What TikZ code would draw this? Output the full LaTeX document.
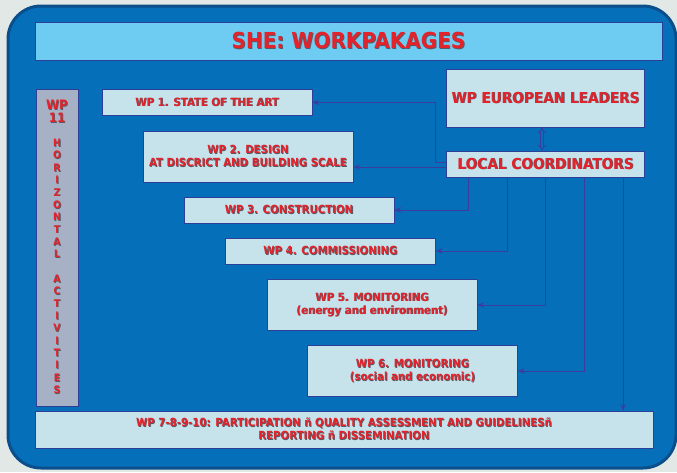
\documentclass[tikz,border=0pt]{standalone}
\usepackage{fontspec}
\usepackage{xcolor}
\usetikzlibrary{arrows.meta}
\newfontfamily\wpfont[FakeStretch=0.91]{DejaVu Sans}
\definecolor{pagebg}{HTML}{E1E8E5}
\definecolor{bgblue}{HTML}{0570B9}
\definecolor{framedark}{HTML}{0A4F8C}
\definecolor{titlefill}{HTML}{6ECBF1}
\definecolor{boxfill}{HTML}{C6E2EB}
\definecolor{sidefill}{HTML}{A6B1C6}
\definecolor{edge}{HTML}{2E3F97}
\definecolor{linkcol}{HTML}{3A3C9E}
\definecolor{wpred}{HTML}{E3232B}
\definecolor{txtshadow}{HTML}{5A5A66}
\newcommand\shtxt[1]{\leavevmode\rlap{\kern0.8pt\raisebox{-0.8pt}{\textcolor{txtshadow}{#1}}}#1}
\tikzstyle{wpbox} = [rectangle, draw=edge, fill=boxfill, line width=1pt, minimum width=210pt, minimum height=26pt, inner sep=0pt, align=center, text=wpred, font=\wpfont\bfseries\fontsize{11.2}{13}\selectfont]
\tikzstyle{wptall} = [wpbox, minimum height=51pt]
\tikzstyle{lead} = [wpbox, minimum width=198pt, font=\wpfont\bfseries\fontsize{15}{18}\selectfont]
\tikzstyle{sidebar} = [wpbox, fill=sidefill, minimum width=42pt, minimum height=317pt, font=\wpfont\bfseries\fontsize{10.3}{12.35}\selectfont]
\tikzstyle{banner} = [wpbox, fill=titlefill, minimum width=627pt, minimum height=38pt, font=\wpfont\bfseries\fontsize{22}{26}\selectfont]
\tikzstyle{link} = [line width=1pt, draw=linkcol, -{Stealth[length=6.5pt,width=5.5pt]}]
\tikzstyle{both} = [line width=0.8pt, draw=linkcol, double=bgblue, double distance=2pt, {Implies[length=3.5pt]}-{Implies[length=3.5pt]}]

\begin{document}
\begin{tikzpicture}[x=1pt,y=-1pt]

    \useasboundingbox (0,0) rectangle (677,472);
    \fill [pagebg] (0,0) rectangle (677,472);
    \draw [fill=bgblue, draw=framedark, line width=3pt, rounded corners=33pt] (8,6) rectangle (676,468);

    \node (t) [banner] at (348.5,41) {\shtxt{SHE: WORKPAKAGES}};

    \node (wp11) [sidebar] at (57,247.5) {{\fontsize{13}{16}\selectfont\shtxt{WP}}\\{\fontsize{13}{16}\selectfont\shtxt{11}}\\[12pt]
      \shtxt{H}\\\shtxt{O}\\\shtxt{R}\\\shtxt{I}\\\shtxt{Z}\\\shtxt{O}\\\shtxt{N}\\\shtxt{T}\\\shtxt{A}\\\shtxt{L}\\[12.35pt]
      \shtxt{A}\\\shtxt{C}\\\shtxt{T}\\\shtxt{I}\\\shtxt{V}\\\shtxt{I}\\\shtxt{T}\\\shtxt{I}\\\shtxt{E}\\\shtxt{S}};

    \node (wp1) [wpbox] at (207,102.5) {\shtxt{WP 1. STATE OF THE ART}};
    \node (wp2) [wptall] at (248,156.5) {\shtxt{WP 2. DESIGN}\\\shtxt{AT DISCRICT AND BUILDING SCALE}};
    \node (wp3) [wpbox] at (289,210) {\shtxt{WP 3. CONSTRUCTION}};
    \node (wp4) [wpbox] at (330.5,251) {\shtxt{WP 4. COMMISSIONING}};
    \node (wp5) [wptall] at (372,305) {\shtxt{WP 5. MONITORING}\\\shtxt{(energy and environment)}};
    \node (wp6) [wptall] at (412.5,371) {\shtxt{WP 6. MONITORING}\\\shtxt{(social and economic)}};

    \node (el) [lead, minimum height=58pt] at (545.5,98) {\shtxt{WP EUROPEAN LEADERS}};
    \node (lc) [lead] at (545.5,164) {\shtxt{LOCAL COORDINATORS}};

    \node (wpall) [wpbox, minimum width=618pt, minimum height=37pt] at (344,429.5)
      {\shtxt{WP 7-8-9-10: PARTICIPATION ñ QUALITY ASSESSMENT AND GUIDELINESñ}\\\shtxt{REPORTING ñ DISSEMINATION}};

    % leaders and coordinators
    \draw [both] ([xshift=-3.5pt]el.south) -- ([xshift=-3.5pt]lc.north);

    % coordinators to the work packages
    \draw [link] ([yshift=2pt]lc.west) -- ++(-11,0) |- (wp1.east);
    \draw [link] ([yshift=-3pt]lc.west) coordinate (c2) -- (c2 -| wp2.east);
    \foreach \dx/\wp in {-77.5/wp3,-38.5/wp4,0/wp5,38.5/wp6}
        \draw [link] ([xshift=\dx pt]lc.south) |- (\wp.east);
    \draw [link] ([xshift=77.5pt]lc.south) coordinate (c7) -- (c7 |- wpall.north);

\end{tikzpicture}
\end{document}
